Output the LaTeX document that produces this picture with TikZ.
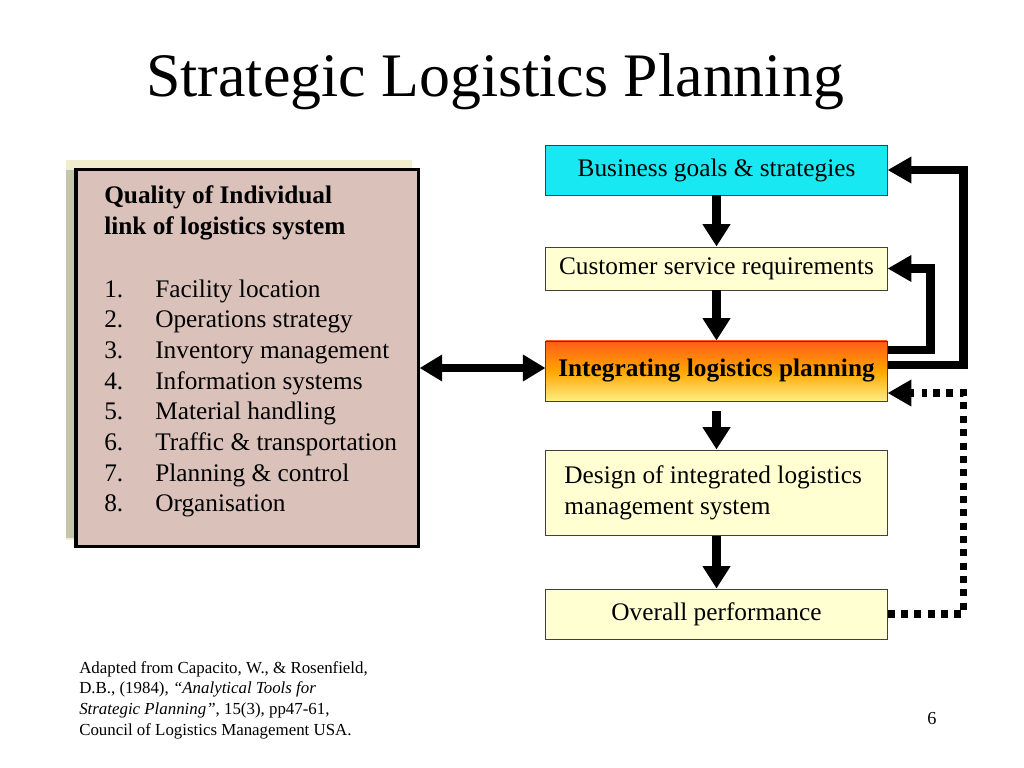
\documentclass[tikz,border=0pt]{standalone}
\usepackage{fontspec}
\setmainfont{Liberation Serif}
\usetikzlibrary{arrows.meta}
\definecolor{boxcyan}{RGB}{24,232,242}
\definecolor{paleyellow}{RGB}{255,255,210}
\definecolor{rosy}{RGB}{218,194,186}
\definecolor{backyellow}{RGB}{240,238,204}
\definecolor{backgrey}{RGB}{196,198,172}
\definecolor{hotorange}{RGB}{255,92,24}
\definecolor{softyellow}{RGB}{255,238,130}
\begin{document}
\begin{tikzpicture}[x=0.025cm, y=-0.025cm,
    flowbox/.style={draw=black!75, line width=0.7pt, minimum width=8.525cm,
        inner sep=0pt, font=\fontsize{18}{21.8}\selectfont},
    listtext/.style={anchor=base west, inner sep=0pt, font=\fontsize{18}{21.8}\selectfont},
    downarrow/.style={line width=7pt, -{Triangle[width=19pt,length=16pt]}},
    backarrow/.style={line width=6pt, -{Triangle[width=18pt,length=17pt]}}]
    \useasboundingbox (0,0) rectangle (1024,768);

    % title
    \node[anchor=base, inner sep=0pt, font=\fontsize{44}{52}\selectfont] (title) at (495,97) {Strategic Logistics Planning};

    % left box
    \fill[backyellow] (66,160) rectangle (412,540);
    \fill[backgrey] (66,170) rectangle (76,538);
    \node[draw=black, line width=2.2pt, fill=rosy, minimum width=8.55cm, minimum height=9.4cm] (qual) at (247,358) {};
    \node[listtext, font=\bfseries\fontsize{18}{21.8}\selectfont] (head1) at (104,203) {Quality of Individual};
    \node[listtext, font=\bfseries\fontsize{18}{21.8}\selectfont] (head2) at (104,234) {link of logistics system};
    \foreach \n/\item in {1/Facility location, 2/Operations strategy, 3/Inventory management,
        4/Information systems, 5/Material handling, 6/Traffic \& transportation,
        7/Planning \& control, 8/Organisation} {
        \node[listtext] (num\n) at (104,297+30.7*\n-30.7) {\n.};
        \node[listtext] (item\n) at (155,297+30.7*\n-30.7) {\item};
    }

    % flow boxes
    \node[flowbox, fill=boxcyan, minimum height=1.25cm] (goals) at (716.5,170) {Business goals \& strategies};
    \node[flowbox, fill=paleyellow, minimum height=1.075cm] (service) at (716.5,268.5) {Customer service requirements};
    \node[flowbox, top color=hotorange, bottom color=softyellow, middle color=orange!70!yellow,
        minimum height=1.5cm, font=\bfseries\fontsize{18}{21.8}\selectfont] (integ) at (716.5,371) {Integrating logistics planning};
    \node[flowbox, fill=paleyellow, minimum height=2.125cm, text width=7.6cm, align=flush left] (design) at (716.5,492.5)
        {Design of integrated logistics\\management system};
    \node[flowbox, fill=paleyellow, minimum height=1.25cm] (perf) at (716.5,614) {Overall performance};

    % arrows down
    \draw[downarrow] (goals.south) -- (service.north);
    \draw[downarrow] (service.south) -- (integ.north);
    \draw[downarrow, shorten <=7pt] (integ.south) -- (design.north);
    \draw[downarrow] (design.south) -- (perf.north);

    % feedback
    \draw[backarrow] ([yshift=0.525cm]integ.east) -- ++(43,0) |- (service.east);
    \draw[backarrow] ([yshift=0.15cm]integ.east) -- ++(76,0) |- (goals.east);
    \draw[line width=5pt, dash pattern=on 5pt off 4.5pt] (perf.east) -- ++(76,0) |- ([xshift=0.85cm,yshift=-0.55cm]integ.east);
    \draw[backarrow] ([xshift=0.65cm,yshift=-0.55cm]integ.east) -- ([yshift=-0.55cm]integ.east);

    % both ways
    \draw[line width=5pt, {Triangle[width=18pt,length=16pt]}-{Triangle[width=18pt,length=16pt]}]
        ([yshift=0.075cm]qual.east |- integ.west) -- ([yshift=0.075cm]integ.west);

    % source
    \node[anchor=base west, inner sep=0pt, align=left, font=\fontsize{12}{14.6}\selectfont] (src) at (79,735)
        {Adapted from Capacito, W., \& Rosenfield,\\
         D.B., (1984), \textit{``Analytical Tools for}\\
         \textit{Strategic Planning''}, 15(3), pp47-61,\\
         Council of Logistics Management USA.};
    \node[anchor=base, inner sep=0pt, font=\fontsize{13}{15}\selectfont] (page) at (932,724) {6};
\end{tikzpicture}
\end{document}
